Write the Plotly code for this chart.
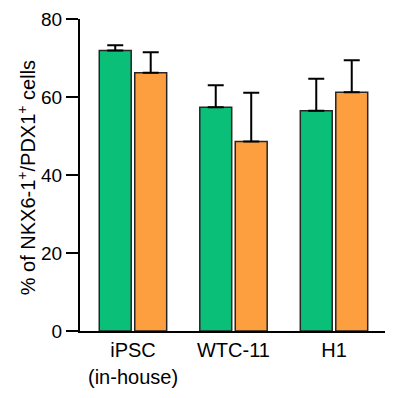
import plotly.graph_objects as go

categories = ["iPSC", "WTC-11", "H1"]
category_sublabels = ["(in-house)", "", ""]
green_values = [71.9, 57.4, 56.5]
green_err = [1.4, 5.6, 8.2]
orange_values = [66.2, 48.6, 61.2]
orange_err = [5.3, 12.5, 8.2]
y_ticks = [0, 20, 40, 60, 80]

GREEN = "#0abf78"
ORANGE = "#fd9f3f"
FONT = "Liberation Sans, Arial, sans-serif"

xs = list(range(len(categories)))

fig = go.Figure()
fig.add_trace(go.Bar(
    x=xs, y=green_values, marker=dict(color=GREEN, line=dict(color="#262626", width=1.5)),
    error_y=dict(type="data", array=green_err, symmetric=False, arrayminus=[0]*3,
                 color="black", thickness=2, width=8),
    showlegend=False,
))
fig.add_trace(go.Bar(
    x=xs, y=orange_values, marker=dict(color=ORANGE, line=dict(color="#262626", width=1.5)),
    error_y=dict(type="data", array=orange_err, symmetric=False, arrayminus=[0]*3,
                 color="black", thickness=2, width=8),
    showlegend=False,
))

annotations = [
    dict(text="% of NKX6-1<sup>+</sup>/PDX1<sup>+</sup> cells", xref="paper", yref="paper",
         x=-0.172, y=0.49, textangle=-90, showarrow=False,
         font=dict(size=20, family=FONT), xanchor="center", yanchor="middle"),
]
for x, sub in zip(xs, category_sublabels):
    if sub:
        annotations.append(dict(text=sub, x=x, xref="x", y=0, yref="paper",
                                yanchor="top", yshift=-33, showarrow=False,
                                font=dict(size=20, family=FONT)))

fig.update_layout(
    width=385, height=390,
    margin=dict(l=72, r=0, t=11, b=67),
    plot_bgcolor="white", paper_bgcolor="white",
    barmode="group", bargap=0.294, bargroupgap=0.1,
    font=dict(family=FONT, size=19, color="black"),
    xaxis=dict(
        range=[-0.527, 2.587], tickmode="array", tickvals=xs, ticktext=categories,
        showline=True, linecolor="black", linewidth=2, ticks="", showgrid=False,
        zeroline=False, tickfont=dict(size=20),
    ),
    yaxis=dict(
        range=[0, 80], tickmode="array", tickvals=y_ticks,
        showline=True, linecolor="black", linewidth=2, ticks="outside",
        ticklen=12, tickwidth=2, tickcolor="black", showgrid=False, zeroline=False,
        tickfont=dict(size=19),
    ),
    annotations=annotations,
)

fig.write_html("out.html")
